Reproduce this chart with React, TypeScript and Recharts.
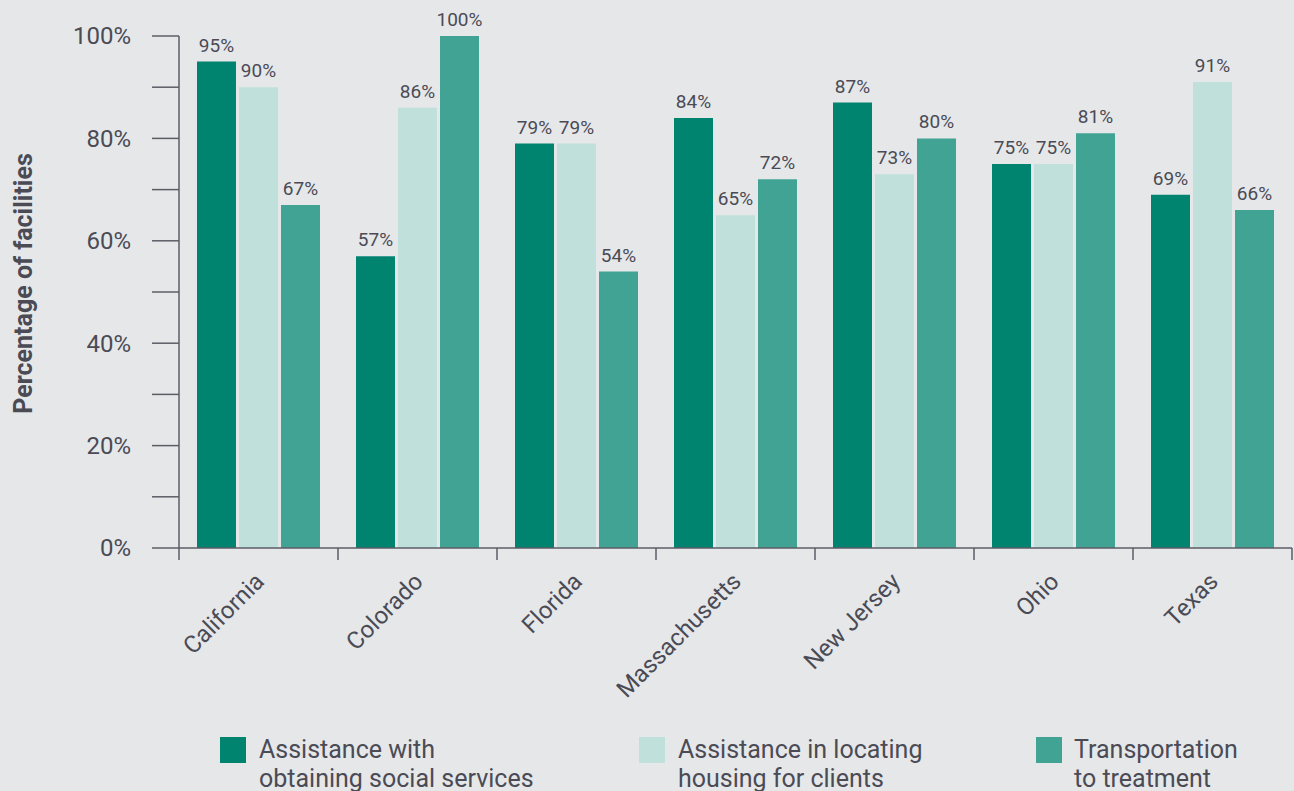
import React from 'react';
import { BarChart, Bar, XAxis, YAxis, LabelList } from 'recharts';

const states = ['California', 'Colorado', 'Florida', 'Massachusetts', 'New Jersey', 'Ohio', 'Texas'];
const socialServices = [95, 57, 79, 84, 87, 75, 69];
const housing = [90, 86, 79, 65, 73, 75, 91];
const transportation = [67, 100, 54, 72, 80, 81, 66];
const yTicks = [0, 10, 20, 30, 40, 50, 60, 70, 80, 90, 100];
const legendLabels = [
  ['Assistance with', 'obtaining social services'],
  ['Assistance in locating', 'housing for clients'],
  ['Transportation', 'to treatment'],
];
const yAxisTitle = 'Percentage of facilities';

const COLORS = ['#008470', '#bfe0db', '#40a394'];
const BG = '#e6e7e9';
const TEXT = '#4a4b55';
const AXIS = '#5b5c66';
const FONT = 'Roboto, sans-serif';

const W = 1294;
const H = 791;
const MARGIN = { top: 36, right: 2, left: 0, bottom: 83 };
const Y_AXIS_W = 179;
const X_AXIS_H = 160;
const PLOT_W = W - MARGIN.left - MARGIN.right - Y_AXIS_W;

const data = states.map((s, i) => ({
  state: s,
  social: socialServices[i],
  housing: housing[i],
  transport: transportation[i],
}));

const XTick = (props: any) => {
  const { x, y, payload, index } = props;
  const band = PLOT_W / states.length;
  const ax = x + 7;
  const ay = y + 35;
  return (
    <g>
      <line x1={x - band / 2} x2={x - band / 2} y1={y} y2={y + 12} stroke={AXIS} strokeWidth={1.5} />
      {index === states.length - 1 && (
        <line x1={x + band / 2} x2={x + band / 2} y1={y} y2={y + 12} stroke={AXIS} strokeWidth={1.5} />
      )}
      <text
        x={ax}
        y={ay}
        transform={`rotate(-45, ${ax}, ${ay})`}
        textAnchor="end"
        fontSize={24}
        fill={TEXT}
        fontFamily={FONT}
      >
        {payload.value}
      </text>
    </g>
  );
};

const YTick = (props: any) => {
  const { x, y, payload } = props;
  if (payload.value % 20 !== 0) return <g />;
  return (
    <text x={x} y={y} dy="0.35em" textAnchor="end" fontSize={24} fill={TEXT} fontFamily={FONT}>
      {payload.value}%
    </text>
  );
};

const YTitle = (props: any) => {
  const vb = props.viewBox || {};
  const cx = 32;
  const cy = vb.y + vb.height / 2 - 8.5;
  return (
    <text
      x={cx}
      y={cy}
      transform={`rotate(-90, ${cx}, ${cy})`}
      textAnchor="middle"
      fontSize={25}
      fontWeight={700}
      fill={TEXT}
      fontFamily={FONT}
    >
      {yAxisTitle}
    </text>
  );
};

const fmt = (v: any) => `${v}%`;

const legendPos = [
  { sq: 220, tx: 259 },
  { sq: 639, tx: 678 },
  { sq: 1036, tx: 1074 },
];

export default function App() {
  return (
    <div style={{ position: 'relative', width: W, height: H, background: BG, overflow: 'hidden', fontFamily: FONT }}>
      <style>{`body{margin:0;background:${BG};}`}</style>
      <BarChart width={W} height={H} data={data} margin={MARGIN} barSize={39} barGap={3}>
        <XAxis
          dataKey="state"
          height={X_AXIS_H}
          axisLine={{ stroke: AXIS, strokeWidth: 1.5 }}
          tickLine={false}
          tickSize={0}
          tickMargin={0}
          tick={<XTick />}
          interval={0}
        />
        <YAxis
          width={Y_AXIS_W}
          domain={[0, 100]}
          ticks={yTicks}
          interval={0}
          axisLine={{ stroke: AXIS, strokeWidth: 1.5 }}
          tickLine={{ stroke: AXIS, strokeWidth: 1.5 }}
          tickSize={27}
          tickMargin={21}
          tick={<YTick />}
          label={{ content: <YTitle /> } as any}
        />
        <Bar dataKey="social" fill={COLORS[0]} isAnimationActive={false}>
          <LabelList dataKey="social" position="top" offset={10} formatter={fmt} fontSize={19} fill={TEXT} fontFamily={FONT} />
        </Bar>
        <Bar dataKey="housing" fill={COLORS[1]} isAnimationActive={false}>
          <LabelList dataKey="housing" position="top" offset={10} formatter={fmt} fontSize={19} fill={TEXT} fontFamily={FONT} />
        </Bar>
        <Bar dataKey="transport" fill={COLORS[2]} isAnimationActive={false}>
          <LabelList dataKey="transport" position="top" offset={10} formatter={fmt} fontSize={19} fill={TEXT} fontFamily={FONT} />
        </Bar>
      </BarChart>
      {legendLabels.map((lines, i) => (
        <React.Fragment key={i}>
          <div
            style={{
              position: 'absolute',
              left: legendPos[i].sq,
              top: 737,
              width: 26,
              height: 26,
              background: COLORS[i],
            }}
          />
          <div
            style={{
              position: 'absolute',
              left: legendPos[i].tx,
              top: 735,
              fontSize: 25,
              lineHeight: '29px',
              color: TEXT,
              whiteSpace: 'nowrap',
            }}
          >
            {lines[0]}
            <br />
            {lines[1]}
          </div>
        </React.Fragment>
      ))}
    </div>
  );
}
